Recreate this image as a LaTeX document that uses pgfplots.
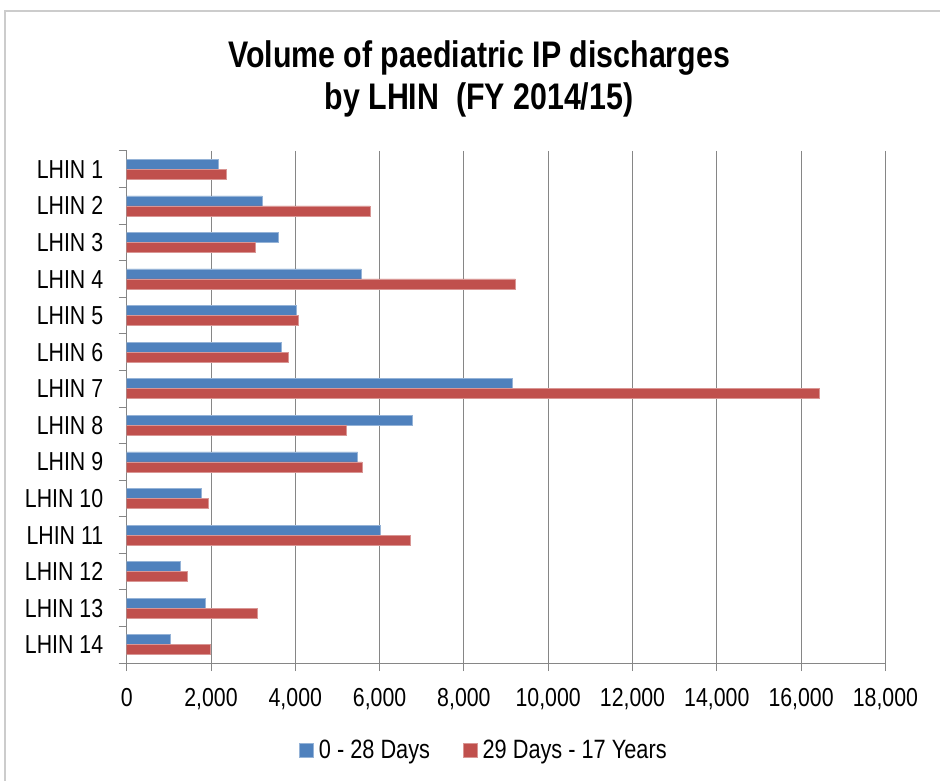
\documentclass[border=0pt]{standalone}
\usepackage{fontspec}
\setmainfont{Liberation Sans}[FakeStretch=0.82]
\usepackage{pgfplots}
\pgfplotsset{compat=1.18}
\definecolor{cblue}{HTML}{4F81BD}
\definecolor{cred}{HTML}{C0504D}
\definecolor{gridc}{HTML}{868686}
\begin{document}
\begin{tikzpicture}
\useasboundingbox (0pt,0pt) rectangle (940pt,781pt);
\fill[white] (0pt,0pt) rectangle (940pt,781pt);
\draw[line width=2.5pt, black!20] (5pt,-20pt) -- (5pt,770pt) -- (960pt,770pt);
\node[anchor=base, font=\fontsize{37}{44}\selectfont\bfseries] at (479pt,713.7pt) {Volume of paediatric IP discharges};
\node[anchor=base, font=\fontsize{37}{44}\selectfont\bfseries] at (479pt,671.7pt) {by LHIN\ \ (FY 2014/15)};
\begin{axis}[
  at={(126.7pt,118pt)}, anchor=south west,
  scale only axis, width=758.7pt, height=512pt,
  xbar, bar width=10pt,
  xmin=0, xmax=18000,
  ymin=0.5, ymax=14.5, y dir=reverse,
  xtick={0,2000,...,18000},
  ytick={1,...,14},
  yticklabels={LHIN 1,LHIN 2,LHIN 3,LHIN 4,LHIN 5,LHIN 6,LHIN 7,LHIN 8,LHIN 9,LHIN 10,LHIN 11,LHIN 12,LHIN 13,LHIN 14},
  minor ytick={0.5,1.5,...,14.5},
  axis lines*=left,
  axis line style={gridc, line width=1pt, -},
  tick align=outside,
  major tick length=8pt, minor tick length=8pt,
  every major y tick/.append style={draw=none},
  every tick/.append style={gridc, line width=1pt},
  every minor tick/.append style={gridc, line width=1pt},
  xmajorgrids, major grid style={gridc, line width=1pt},
  scaled x ticks=false,
  /pgf/number format/.cd, 1000 sep={,}, assume math mode=true, /pgfplots/.cd,
  tick label style={font=\fontsize{26}{30}\selectfont},
  xticklabel style={anchor=base, yshift=-35pt},
  yticklabel style={anchor=base east, xshift=-12pt, yshift=-9pt},
  legend columns=2,
  legend style={at={(0.4696,-0.17)}, anchor=center, draw=none, fill=none,
    font=\fontsize{26.5}{30}\selectfont, nodes={inner sep=0pt},
    /tikz/every even column/.append style={column sep=33pt}},
  legend image code/.code={\fill[#1] (0pt,-7pt) rectangle (14pt,7pt); \path (19pt,0pt);},
]
\addplot[fill=cblue, draw=cblue!60!white, line width=0.6pt, bar shift=5pt] coordinates {
(2170,1) (3210,2) (3600,3) (5560,4) (4030,5) (3670,6) (9150,7)
(6780,8) (5480,9) (1770,10) (6010,11) (1260,12) (1860,13) (1040,14)};
\addplot[fill=cred, draw=cred!60!white, line width=0.6pt, bar shift=-5pt] coordinates {
(2360,1) (5770,2) (3040,3) (9220,4) (4080,5) (3840,6) (16430,7)
(5210,8) (5580,9) (1930,10) (6730,11) (1430,12) (3110,13) (1980,14)};
\legend{0 - 28 Days, 29 Days - 17 Years}
\end{axis}
\end{tikzpicture}
\end{document}
